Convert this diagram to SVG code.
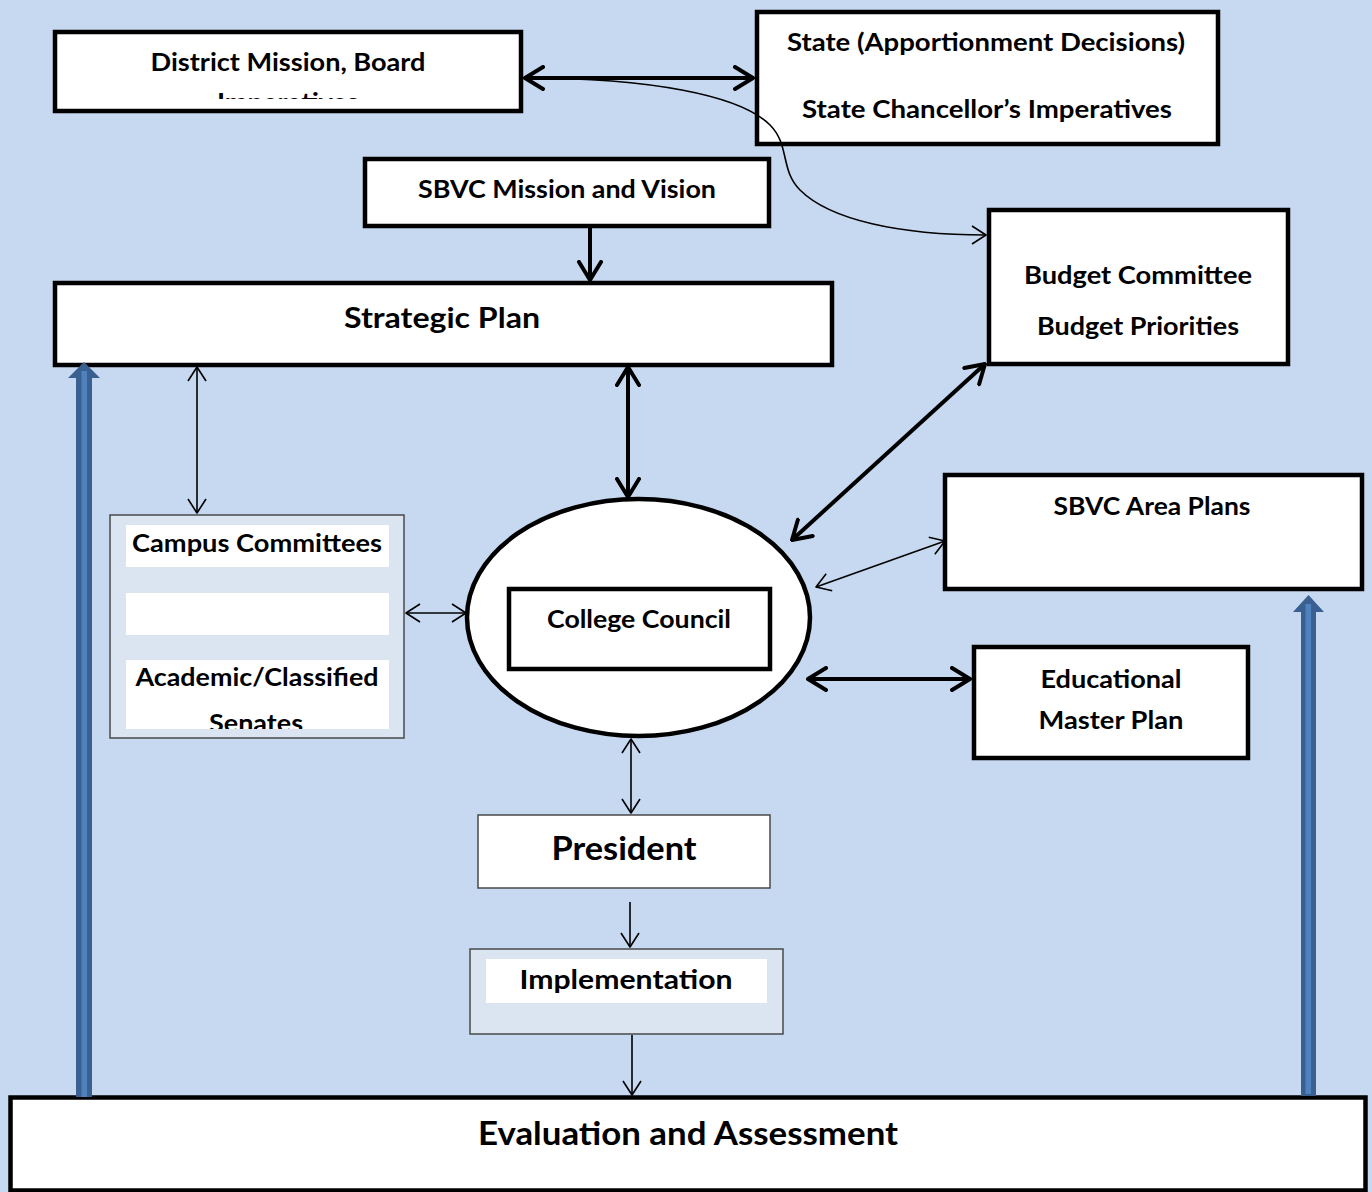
<svg xmlns="http://www.w3.org/2000/svg" width="1372" height="1192" viewBox="0 0 1372 1192">
<style>
.bg{fill:#C6D9F0}
.box{fill:#FFFFFF;stroke:#000000;stroke-width:4.5}
.lbox{fill:#DBE5F1;stroke:#4A4A4A;stroke-width:1.5}
.wbox{fill:#FFFFFF;stroke:#4A4A4A;stroke-width:1.5}
.inner{fill:#FFFFFF}
text{font-family:Lato,"Noto Sans","Liberation Sans",sans-serif;font-weight:bold;fill:#000000;text-anchor:middle}
.thin{fill:none;stroke:#000000;stroke-width:1.6}
.thick{fill:none;stroke:#000000;stroke-width:4}
.bdark{fill:#3A6091}
.blight{fill:#4F81BD}
</style>
<defs>
<marker id="mThin" viewBox="0 0 16 20" refX="15" refY="10" markerWidth="16" markerHeight="20" markerUnits="userSpaceOnUse" orient="auto-start-reverse">
<path d="M1,1 L15,10 L1,19" fill="none" stroke="#000000" stroke-width="1.6" stroke-linejoin="round"/>
</marker>
<marker id="mThick" viewBox="0 0 22 26" refX="20" refY="13" markerWidth="22" markerHeight="26" markerUnits="userSpaceOnUse" orient="auto-start-reverse">
<path d="M2,2 L20,13 L2,24" fill="none" stroke="#000000" stroke-width="4" stroke-linecap="round" stroke-linejoin="round"/>
</marker>
<clipPath id="clipDistrict"><rect x="57" y="34" width="462" height="65"/></clipPath>
<clipPath id="clipSenates"><rect x="126" y="660" width="263" height="69"/></clipPath>
</defs>
<rect class="bg" x="0" y="0" width="1372" height="1192"/>

<g id="node-district">
<rect class="box" x="55" y="32" width="466" height="79"/>
<g clip-path="url(#clipDistrict)">
<text x="288" y="71" font-size="24" textLength="275" lengthAdjust="spacingAndGlyphs">District Mission, Board</text>
<text x="288" y="111" font-size="24" textLength="142" lengthAdjust="spacingAndGlyphs">Imperatives</text>
</g>
</g>

<g id="node-state">
<rect class="box" x="757" y="12" width="461" height="132"/>
<text x="986" y="51" font-size="24" textLength="398" lengthAdjust="spacingAndGlyphs">State (Apportionment Decisions)</text>
<text x="987" y="118" font-size="24" textLength="370" lengthAdjust="spacingAndGlyphs">State Chancellor’s Imperatives</text>
</g>

<g id="node-mission">
<rect class="box" x="365" y="159" width="404" height="67"/>
<text x="567" y="198" font-size="24" textLength="298" lengthAdjust="spacingAndGlyphs">SBVC Mission and Vision</text>
</g>

<g id="node-strategic">
<rect class="box" x="55" y="283" width="777" height="82"/>
<text x="442" y="328" font-size="29" textLength="196" lengthAdjust="spacingAndGlyphs">Strategic Plan</text>
</g>

<g id="node-budget">
<rect class="box" x="989" y="210" width="299" height="154"/>
<text x="1138" y="284" font-size="25" textLength="228" lengthAdjust="spacingAndGlyphs">Budget Committee</text>
<text x="1138" y="335" font-size="25" textLength="202" lengthAdjust="spacingAndGlyphs">Budget Priorities</text>
</g>

<g id="node-areaplans">
<rect class="box" x="945" y="475" width="417" height="114"/>
<text x="1152" y="515" font-size="25" textLength="197" lengthAdjust="spacingAndGlyphs">SBVC Area Plans</text>
</g>

<g id="node-edmaster">
<rect class="box" x="974" y="647" width="274" height="111"/>
<text x="1111" y="688" font-size="25" textLength="141" lengthAdjust="spacingAndGlyphs">Educational</text>
<text x="1111" y="729" font-size="25" textLength="145" lengthAdjust="spacingAndGlyphs">Master Plan</text>
</g>

<g id="node-campus">
<rect class="lbox" x="110" y="515" width="294" height="223"/>
<rect class="inner" x="126" y="525" width="263" height="42"/>
<rect class="inner" x="126" y="593" width="263" height="42"/>
<rect class="inner" x="126" y="660" width="263" height="69"/>
<text x="257" y="552" font-size="25" textLength="250" lengthAdjust="spacingAndGlyphs">Campus Committees</text>
<text x="257" y="686" font-size="25" textLength="243" lengthAdjust="spacingAndGlyphs">Academic/Classified</text>
<g clip-path="url(#clipSenates)">
<text x="256" y="732" font-size="25" textLength="94" lengthAdjust="spacingAndGlyphs">Senates</text>
</g>
</g>

<g id="node-council">
<ellipse cx="638.5" cy="617.5" rx="171.5" ry="118.5" fill="#FFFFFF" stroke="#000000" stroke-width="4.5"/>
<rect class="box" x="509" y="589" width="261" height="80"/>
<text x="639" y="628" font-size="25" textLength="184" lengthAdjust="spacingAndGlyphs">College Council</text>
</g>

<g id="node-president">
<rect class="wbox" x="478" y="815" width="292" height="73"/>
<text x="624" y="860" font-size="32" textLength="145" lengthAdjust="spacingAndGlyphs">President</text>
</g>

<g id="node-implementation">
<rect class="lbox" x="470" y="949" width="313" height="85"/>
<rect class="inner" x="486" y="959" width="281" height="44"/>
<text x="626" y="989" font-size="27" textLength="213" lengthAdjust="spacingAndGlyphs">Implementation</text>
</g>

<g id="node-evaluation">
<rect class="box" x="10.5" y="1097.5" width="1355" height="93"/>
<text x="688" y="1145" font-size="32" textLength="420" lengthAdjust="spacingAndGlyphs">Evaluation and Assessment</text>
</g>

<g id="connectors">
<line class="thick" x1="525" y1="78" x2="753" y2="78" marker-start="url(#mThick)" marker-end="url(#mThick)"/>
<path class="thin" d="M525,78 C650,78 740,95 770,125 C790,145 780,170 800,190 C830,220 900,235 986,235" marker-end="url(#mThin)"/>
<line class="thick" x1="590" y1="228" x2="590" y2="280" marker-end="url(#mThick)"/>
<line class="thin" x1="197" y1="367" x2="197" y2="513" marker-start="url(#mThin)" marker-end="url(#mThin)"/>
<line class="thick" x1="628" y1="367" x2="628" y2="497" marker-start="url(#mThick)" marker-end="url(#mThick)"/>
<line class="thick" x1="985" y1="364" x2="792" y2="540" marker-start="url(#mThick)" marker-end="url(#mThick)"/>
<line class="thin" x1="816" y1="587" x2="945" y2="541" marker-start="url(#mThin)" marker-end="url(#mThin)"/>
<line class="thick" x1="808" y1="679" x2="970" y2="679" marker-start="url(#mThick)" marker-end="url(#mThick)"/>
<line class="thin" x1="406" y1="613" x2="466" y2="613" marker-start="url(#mThin)" marker-end="url(#mThin)"/>
<line class="thin" x1="631" y1="739" x2="631" y2="813" marker-start="url(#mThin)" marker-end="url(#mThin)"/>
<line class="thin" x1="630" y1="902" x2="630" y2="947" marker-end="url(#mThin)"/>
<line class="thin" x1="632" y1="1035" x2="632" y2="1095" marker-end="url(#mThin)"/>
<polygon class="bdark" points="76,1097 76,378 68,378 84,362 100,378 92,378 92,1097"/>
<rect class="blight" x="81.5" y="371" width="5.5" height="726"/>
<polygon class="bdark" points="1301,1096 1301,612 1293,612 1308.5,595 1324,612 1316,612 1316,1096"/>
<rect class="blight" x="1305.5" y="604" width="5.5" height="490"/>
</g>
</svg>
